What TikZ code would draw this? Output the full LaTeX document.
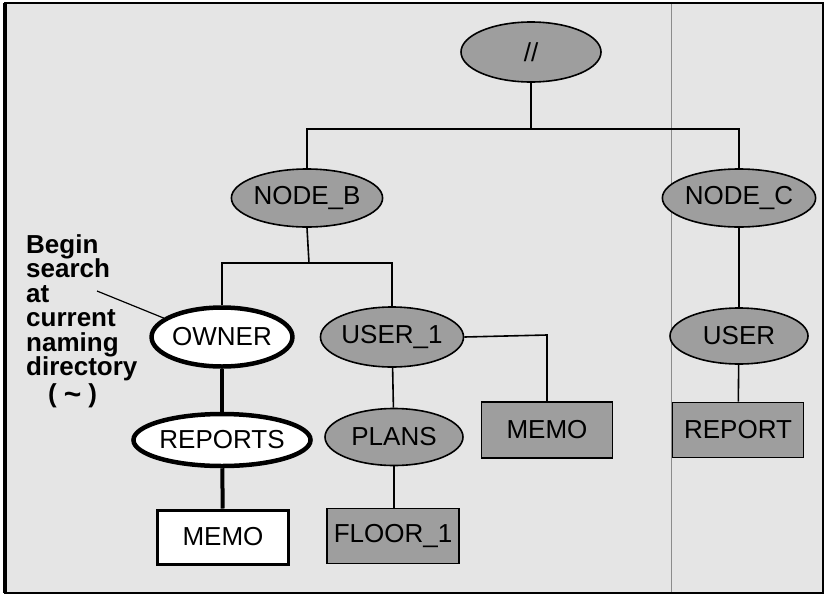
\documentclass[tikz,border=0pt]{standalone}
\usepackage{fontspec}
\setmainfont{Liberation Sans}
\usetikzlibrary{shapes.geometric}
\begin{document}
\begin{tikzpicture}[x=1pt,y=-1pt,
  lbl/.style={font=\fontsize{26}{26}\selectfont},
  gell/.style={lbl,ellipse,draw,line width=1.6pt,fill=black!38,inner sep=0pt},
  well/.style={lbl,ellipse,draw,line width=4.5pt,fill=white,inner sep=0pt},
  gbox/.style={lbl,rectangle,draw,line width=1.6pt,fill=black!38,inner sep=0pt},
  wbox/.style={lbl,rectangle,draw,line width=3pt,fill=white,inner sep=0pt},
  conn/.style={line width=1.6pt},
  tconn/.style={line width=4pt}]
\useasboundingbox (0,0) rectangle (828,598);
\fill[black!10] (5,3) rectangle (823,593);
\draw[black!45,line width=0.6pt] (671,3) -- (671,593);
\draw[line width=2pt] (5,3) rectangle (823,593);
\draw[line width=3.5pt] (5,3) -- (5,593);

\coordinate (bus1) at (531,129);
\coordinate (bus2) at (309,263);
\coordinate (u1m) at (547,335);

\node[gell,minimum width=140pt,minimum height=60pt] (root) at (531,52) {//};
\node[gell,minimum width=140pt,minimum height=58pt] (nodeb) at (307,198) {NODE\_B};
\node[gell,minimum width=138pt,minimum height=58pt] (nodec) at (739,198) {NODE\_C};
\node[well,minimum width=138pt,minimum height=59pt] (owner) at (222,337) {OWNER};
\node[well,minimum width=141pt,minimum height=52pt] (reports) at (222,440) {REPORTS};
\node[wbox,minimum width=131pt,minimum height=54pt] (memo1) at (223,537) {MEMO};
\node[gell,minimum width=140pt,minimum height=60pt] (user1) at (392,337) {USER\_1};
\node[gell,minimum width=138pt,minimum height=57pt] (plans) at (394,437) {PLANS};
\node[gbox,minimum width=132pt,minimum height=55pt] (floor1) at (393,536) {FLOOR\_1};
\node[gbox,minimum width=131pt,minimum height=56pt] (memo2) at (547,430) {MEMO};
\node[gell,minimum width=138pt,minimum height=56pt] (user) at (739,336) {USER};
\node[gbox,minimum width=131pt,minimum height=55pt] (report) at (738,430) {REPORT};

\draw[conn] (root) -- (bus1);
\draw[conn] (nodeb.north) |- (bus1) -| (nodec.north);
\draw[conn] (nodeb.south) -- (bus2);
\draw[conn] (owner.north) |- (bus2) -| (user1.north);
\draw[tconn] (owner) -- (reports);
\draw[tconn] (reports) -- (memo1);
\draw[conn] (user1) -- (plans);
\draw[conn] (plans.south) -- (plans.south |- floor1.north);
\draw[conn] (user1.east) -- (u1m) -- (memo2.north);
\draw[conn] (nodec) -- (user);
\draw[conn] (user) -- (report);

\node[font=\bfseries\fontsize{26}{24.5}\selectfont,align=left,anchor=north west,inner sep=0pt] (note) at (26,234)
  {Begin\\search\\at\\current\\naming\\directory\\[2pt]\hspace*{22pt}(\hspace{7pt}{\fontsize{30}{24}\selectfont\raisebox{-2pt}{\textasciitilde}}\hspace{7pt})};
\coordinate (ptr) at (97,291);
\draw[line width=1.2pt] (ptr) -- (owner.162);
\end{tikzpicture}
\end{document}
